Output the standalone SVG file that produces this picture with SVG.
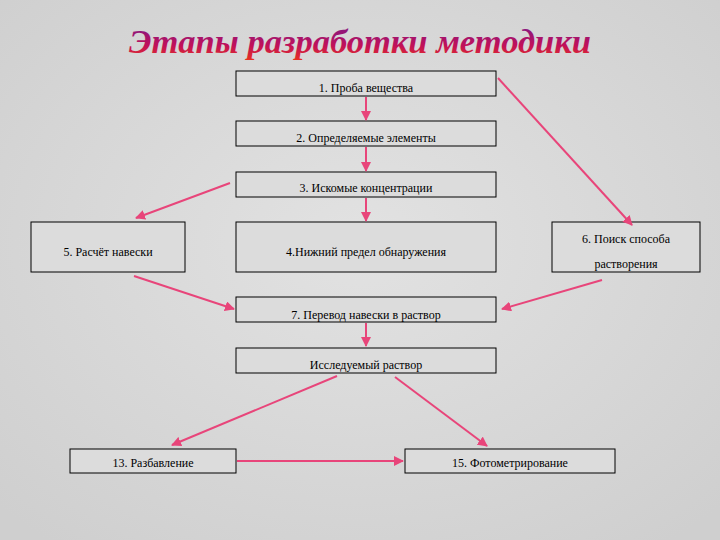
<svg xmlns="http://www.w3.org/2000/svg" width="720" height="540" viewBox="0 0 720 540">
<defs>
<linearGradient id="tg" x1="0" y1="0" x2="0" y2="1"><stop offset="0" stop-color="#7a1a8a"/><stop offset="0.6" stop-color="#c0105a"/><stop offset="1" stop-color="#e83020"/></linearGradient>
<radialGradient id="bg" cx="0.5" cy="0.45" r="0.7"><stop offset="0" stop-color="#e2e2e2"/><stop offset="1" stop-color="#cfcfcf"/></radialGradient>
<marker id="ah" viewBox="0 0 10 10" refX="9" refY="5" markerWidth="5" markerHeight="5" orient="auto"><path d="M0,0L10,5L0,10z" fill="#e8457a"/></marker>
</defs>
<style>
.b{fill:#dcdcdc;stroke:#000;stroke-width:1}
.t{font-family:"Liberation Serif",serif;font-size:12px;fill:#000;text-anchor:middle}
.c line{stroke:#e8457a;stroke-width:2;marker-end:url(#ah)}
</style>
<rect width="720" height="540" fill="url(#bg)"/>
<text x="360" y="53" font-family="Liberation Serif,serif" font-style="italic" font-weight="bold" font-size="34" fill="url(#tg)" text-anchor="middle" textLength="462" lengthAdjust="spacingAndGlyphs">Этапы разработки методики</text>
<g id="n1"><rect class="b" x="236" y="71" width="260" height="25"/><text class="t" x="366" y="92">1. Проба вещества</text></g>
<g id="n2"><rect class="b" x="236" y="121" width="260" height="25"/><text class="t" x="366" y="142">2. Определяемые элементы</text></g>
<g id="n3"><rect class="b" x="236" y="172" width="260" height="25"/><text class="t" x="366" y="192">3. Искомые концентрации</text></g>
<g id="n5"><rect class="b" x="31" y="222" width="154" height="50"/><text class="t" x="108" y="256">5. Расчёт навески</text></g>
<g id="n4"><rect class="b" x="236" y="222" width="260" height="50"/><text class="t" x="366" y="256">4.Нижний предел обнаружения</text></g>
<g id="n6"><rect class="b" x="552" y="222" width="148" height="50"/><text class="t" x="626" y="243">6. Поиск способа</text><text class="t" x="626" y="268">растворения</text></g>
<g id="n7"><rect class="b" x="236" y="297" width="260" height="25"/><text class="t" x="366" y="319">7. Перевод навески в раствор</text></g>
<g id="n8"><rect class="b" x="236" y="348" width="260" height="25"/><text class="t" x="366" y="369">Исследуемый раствор</text></g>
<g id="n13"><rect class="b" x="70" y="449" width="166" height="24"/><text class="t" x="153" y="467">13. Разбавление</text></g>
<g id="n15"><rect class="b" x="405" y="449" width="210" height="24"/><text class="t" x="510" y="467">15. Фотометрирование</text></g>
<g id="connectors" class="c">
<line x1="366" y1="97" x2="366" y2="120"/>
<line x1="366" y1="147" x2="366" y2="171"/>
<line x1="230" y1="183" x2="136" y2="218"/>
<line x1="366" y1="198" x2="366" y2="221"/>
<line x1="498" y1="78" x2="632" y2="225"/>
<line x1="134" y1="276" x2="234" y2="309"/>
<line x1="602" y1="280" x2="502" y2="309"/>
<line x1="366" y1="323" x2="366" y2="346"/>
<line x1="337" y1="376" x2="172" y2="445"/>
<line x1="395" y1="377" x2="487" y2="446"/>
<line x1="237" y1="461" x2="403" y2="461"/>
</g>
</svg>
